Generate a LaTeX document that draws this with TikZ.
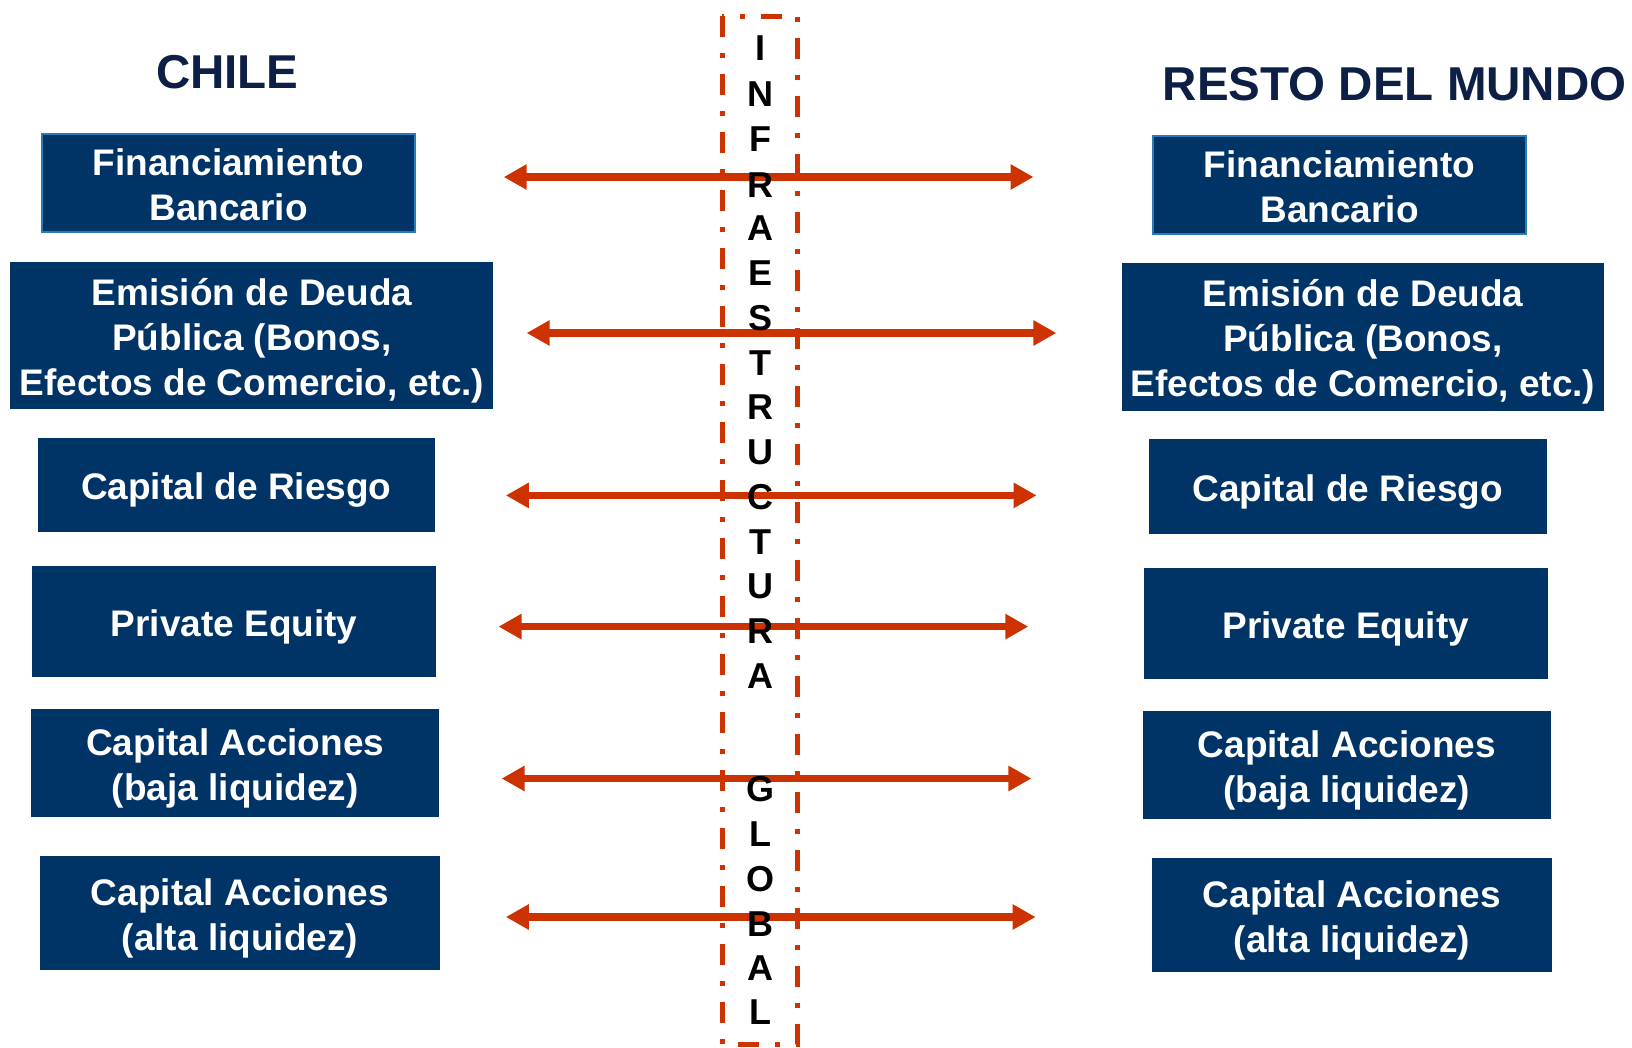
\documentclass[tikz,border=0pt]{standalone}
\usepackage{fontspec}
\setmainfont{Liberation Sans}
\usetikzlibrary{arrows.meta}
\definecolor{boxblue}{RGB}{0,51,102}
\definecolor{edgeblue}{RGB}{40,125,185}
\definecolor{titleblue}{RGB}{14,31,70}
\definecolor{arrred}{RGB}{204,51,0}
\tikzset{
  box/.style={fill=boxblue, draw=none, inner sep=0pt, align=center, text=white,
    text depth=0pt, font=\fontsize{37}{45}\selectfont\bfseries},
  oneline/.style={text height=29.5pt},
  twolines/.style={text height=74.5pt},
  threelines/.style={text height=119.5pt},
  edged/.style={draw=edgeblue, line width=2pt},
  title/.style={text=titleblue, anchor=base, inner sep=0pt, font=\fontsize{47.5}{55}\selectfont\bfseries},
  letter/.style={anchor=base, inner sep=0pt, font=\fontsize{36}{40}\selectfont\bfseries},
  link/.style={draw=arrred, line width=7.5pt,
    {Triangle[length=23pt,width=24pt]}-{Triangle[length=23pt,width=24pt]}},
  frame/.style={draw=arrred, line width=5pt, dash pattern=on 21pt off 16pt on 5pt off 16pt}
}
\begin{document}
\begin{tikzpicture}[x=1pt,y=-1pt]
\useasboundingbox (0,0) rectangle (1632,1047);
% titles
\node[title] (tchile) at (227.4,88.3) {CHILE};
\node[title] (tresto) at (1394.7,100) {RESTO DEL MUNDO};
% left boxes
\node[box,twolines,edged,minimum width=373.7pt,minimum height=97.8pt] (l1) at (228.5,183.2) {Financiamiento\\Bancario};
\node[box,threelines,minimum width=482.9pt,minimum height=146.7pt] (l2) at (251.9,335.7) {Emisión de Deuda\\Pública (Bonos,\\Efectos de Comercio, etc.)};
\node[box,oneline,minimum width=397.5pt,minimum height=93.6pt] (l3) at (236.3,485) {Capital de Riesgo};
\node[box,oneline,minimum width=403.8pt,minimum height=110.3pt] (l4) at (234.2,621.4) {Private Equity};
\node[box,twolines,minimum width=408pt,minimum height=108.2pt] (l5) at (235.2,762.9) {Capital Acciones\\(baja liquidez)};
\node[box,twolines,minimum width=400.7pt,minimum height=114.5pt] (l6) at (239.9,912.8) {Capital Acciones\\(alta liquidez)};
% right boxes
\node[box,twolines,edged,minimum width=372.6pt,minimum height=97.9pt] (r1) at (1339.5,185.3) {Financiamiento\\Bancario};
\node[box,threelines,minimum width=481.9pt,minimum height=147.8pt] (r2) at (1363,337.2) {Emisión de Deuda\\Pública (Bonos,\\Efectos de Comercio, etc.)};
\node[box,oneline,minimum width=397.7pt,minimum height=94.7pt] (r3) at (1347.9,486.6) {Capital de Riesgo};
\node[box,oneline,minimum width=403.9pt,minimum height=110.3pt] (r4) at (1345.8,623.5) {Private Equity};
\node[box,twolines,minimum width=408pt,minimum height=108.2pt] (r5) at (1346.8,765) {Capital Acciones\\(baja liquidez)};
\node[box,twolines,minimum width=399.6pt,minimum height=114.5pt] (r6) at (1352,914.9) {Capital Acciones\\(alta liquidez)};
% dashed frame
\coordinate (ftl) at (722,16);
\coordinate (fbr) at (797,1044);
\draw[frame] (ftl) rectangle (fbr);
% arrow end points
\coordinate (a1l) at (503.7,177);   \coordinate (a1r) at (1033.5,177);
\coordinate (a2l) at (526.6,333);   \coordinate (a2r) at (1056.4,333);
\coordinate (a3l) at (505.8,495.4); \coordinate (a3r) at (1036.6,495.4);
\coordinate (a4l) at (498.5,626.6); \coordinate (a4r) at (1028.3,626.6);
\coordinate (a5l) at (501.6,778.5); \coordinate (a5r) at (1031.4,778.5);
\coordinate (a6l) at (505.8,917);   \coordinate (a6r) at (1035.6,917);
\foreach \i in {1,...,6} { \draw[link] (a\i l) -- (a\i r); }
% vertical letters
\foreach \ch/\yy [count=\k] in {I/47.9,N/93.7,F/138.4,R/184.2,A/227.9,E/272.7,S/317.4,T/362.2,R/407,U/451.7,C/496.5,T/541.2,U/586,R/630.7,A/675.5,G/789,L/833.7,O/878.5,B/923.2,A/968,L/1011.7}
  { \node[letter] (v\k) at (760,\yy+12.9) {\ch}; }
\end{tikzpicture}
\end{document}
